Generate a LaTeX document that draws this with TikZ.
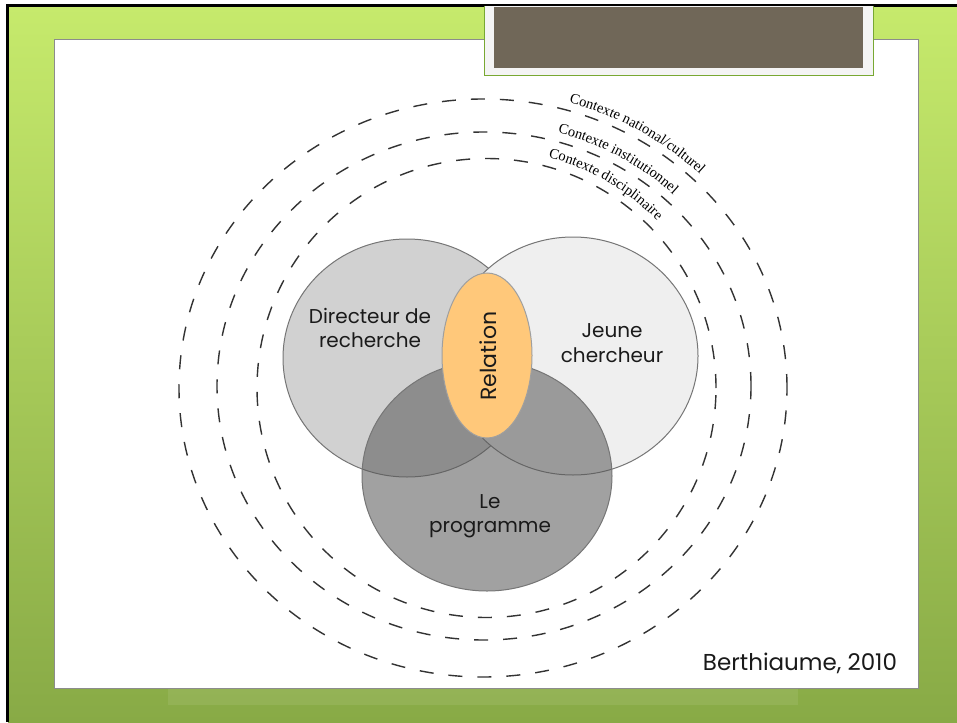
\documentclass[tikz,border=0pt]{standalone}
\usepackage{fontspec}
\setmainfont{Liberation Serif}
\newfontfamily\labelfont{Poppins}
\usetikzlibrary{decorations.text}
\definecolor{greentop}{RGB}{198,234,108}
\definecolor{greenmid}{RGB}{168,208,80}
\definecolor{greenbot}{RGB}{136,170,70}
\definecolor{greenline}{RGB}{120,168,50}
\definecolor{titlefill}{RGB}{112,103,88}
\definecolor{titleframe}{RGB}{244,244,244}
\definecolor{dirfill}{RGB}{209,209,209}
\definecolor{jeufill}{RGB}{239,239,239}
\definecolor{progfill}{RGB}{89,89,89}
\definecolor{relfill}{RGB}{255,200,122}
\definecolor{vennline}{RGB}{118,118,118}
\definecolor{txt}{RGB}{26,26,26}
\begin{document}
\begin{tikzpicture}[x=1pt,y=1pt,
  ring/.style={draw=black!80, line width=1.4pt, dash pattern=on 14pt off 15pt},
  venn/.style={draw=vennline, line width=1pt},
  lbl/.style={font=\labelfont\fontsize{20}{24}\selectfont, text=txt, anchor=base, inner sep=0pt},
  ctxtext/.style={decorate, decoration={text along path, text align=left, text={#1}}}
]
\useasboundingbox (0,0) rectangle (957,-722);
% slide background
\fill[white] (0,0) rectangle (957,-722);
\shade[top color=greentop, middle color=greenmid, bottom color=greenbot] (8,-6) rectangle (957,-722);
\fill[white, opacity=0.08] (168,-689) rectangle (798,-705);
\fill[black] (6,-4) rectangle (957,-7);
\fill[black] (6,-4) rectangle (9,-722);
% white content area
\filldraw[fill=white, draw=gray!90, line width=0.8pt] (54,-39) rectangle (918,-688);
% title box
\filldraw[fill=titleframe, draw=greenline, line width=1pt] (484,-6) -- (484,-76) -- (873,-76) -- (873,-6);
\fill[titlefill] (494,-7) rectangle (863,-68);
% context rings
\coordinate (outerc) at (483,-388);
\coordinate (midc) at (484,-386);
\coordinate (innerc) at (486.5,-388);
\draw[ring] (outerc) ellipse [x radius=304, y radius=289];
\draw[ring] (midc) ellipse [x radius=267, y radius=254];
\draw[ring] (innerc) ellipse [x radius=229.5, y radius=229.5];
\path[ctxtext={|\fontsize{14.5}{16}\selectfont|Contexte national/culturel}]
  (outerc) ++(74:312 and 297) arc[start angle=74, end angle=15, x radius=312, y radius=297];
\path[ctxtext={|\fontsize{14.5}{16}\selectfont|Contexte institutionnel}]
  (midc) ++(74.5:276 and 263) arc[start angle=74.5, end angle=15, x radius=276, y radius=263];
\path[ctxtext={|\fontsize{14.5}{16}\selectfont|Contexte disciplinaire}]
  (innerc) ++(75:239 and 239) arc[start angle=75, end angle=15, x radius=239, y radius=239];
% Venn circles
\coordinate (dirc) at (407,-358);
\coordinate (jeuc) at (573,-356);
\coordinate (progc) at (487,-476);
\coordinate (relc) at (487,-355.5);
\filldraw[venn, fill=dirfill] (dirc) ellipse [x radius=124, y radius=119];
\filldraw[venn, fill=jeufill] (jeuc) ellipse [x radius=125, y radius=119];
\filldraw[venn, fill=progfill, fill opacity=0.56] (progc) ellipse [x radius=125, y radius=115];
\filldraw[draw=gray!75, line width=1pt, fill=relfill] (relc) ellipse [x radius=45, y radius=82.5];
% labels
\node[lbl] (dir1) at (370,-323) {Directeur de};
\node[lbl] (dir2) at (370,-347) {recherche};
\node[lbl] (jeu1) at (612,-337) {Jeune};
\node[lbl] (jeu2) at (612,-362) {chercheur};
\node[lbl] (prog1) at (490,-508) {Le};
\node[lbl] (prog2) at (490,-532) {programme};
\node[lbl, font=\labelfont\fontsize{22}{24}\selectfont, rotate=90] (rel) at (496,-356) {Relation};
\node[lbl, font=\labelfont\fontsize{23}{26}\selectfont] (cite) at (800,-670) {Berthiaume, 2010};
\end{tikzpicture}
\end{document}
